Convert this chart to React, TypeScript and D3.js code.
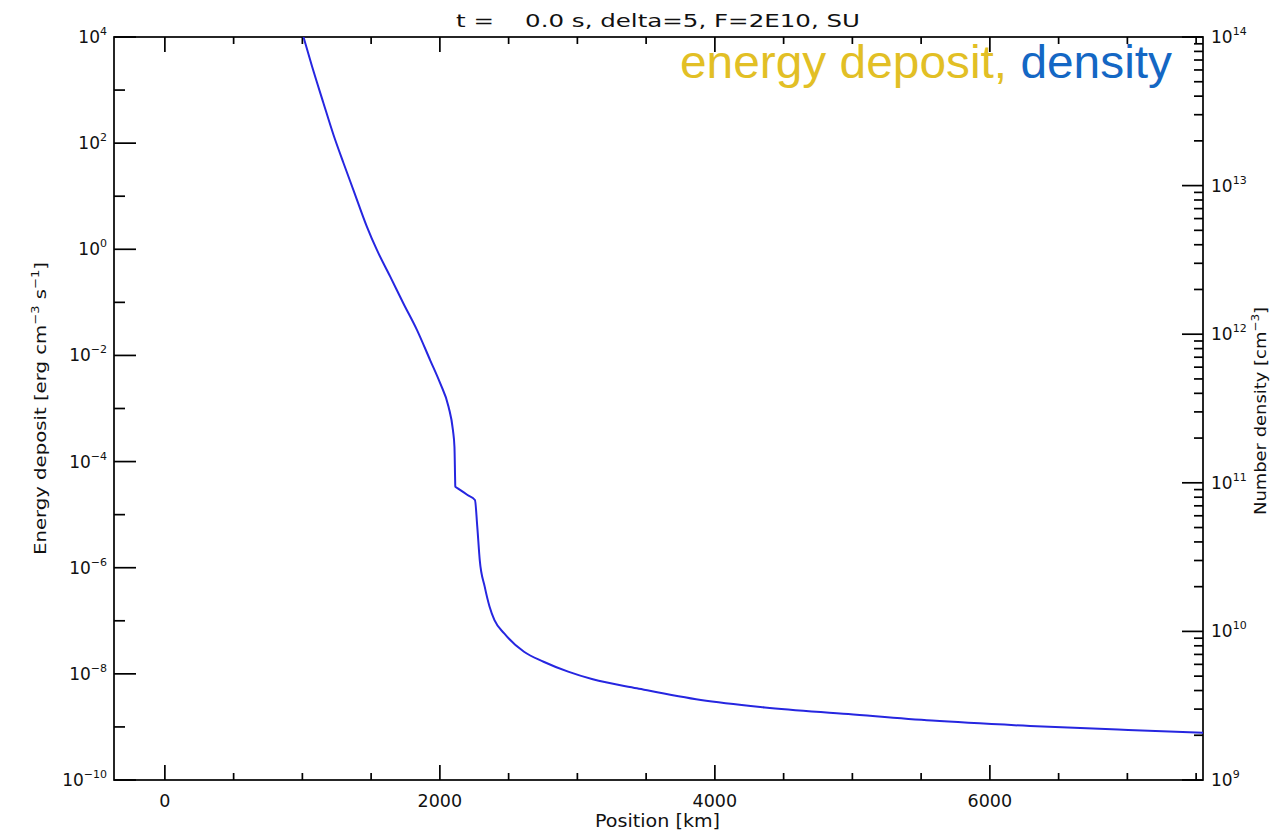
import React from "react";
import * as d3 from "d3";

// Density profile (blue curve): position [km] and number density [cm^-3]
const positionKm = [
  1008, 1069, 1153, 1226, 1299, 1372, 1469, 1542, 1639, 1735, 1833, 1929, 2002, 2063, 2095,
  2106, 2111, 2112, 2130, 2201, 2255, 2272, 2290, 2326, 2361, 2397, 2468, 2612, 2754, 2933,
  3112, 3433, 3898, 4363, 4970, 5578, 6293, 7006, 7551,
];
const densityCm3 = [
  1.0e14, 6.4e13, 3.6e13, 2.2e13, 1.42e13, 9.3e12, 5.3e12, 3.69e12, 2.44e12, 1.61e12,
  1.07e12, 6.7e11, 4.68e11, 3.25e11, 2.26e11, 1.75e11, 1.04e11, 9.42e10, 9.18e10, 8.28e10,
  7.66e10, 5.07e10, 3.02e10, 2.0e10, 1.47e10, 1.19e10, 9.7e9, 7.29e9, 6.25e9, 5.36e9,
  4.76e9, 4.14e9, 3.45e9, 3.08e9, 2.78e9, 2.51e9, 2.31e9, 2.17e9, 2.08e9,
];

const xMajorTicks = [0, 2000, 4000, 6000];
const xMinorTicks = [500, 1000, 1500, 2500, 3000, 3500, 4500, 5000, 5500, 6500, 7000, 7500];
const leftLabelExps = [-10, -8, -6, -4, -2, 0, 2, 4];
const leftMinorExps = [-9, -7, -5, -3, -1, 1, 3];
const rightLabelExps = [9, 10, 11, 12, 13, 14];

const titleText = "t =    0.0 s, delta=5, F=2E10, SU";

const W = 1280;
const H = 835;
const L = 114, R = 1203, T = 37, B = 780;

const FONT = "'DejaVu Sans', sans-serif";

function expLabel(e: number) {
  return e < 0 ? "\u2212" + Math.abs(e) : String(e);
}

export default function App() {
  const x = d3.scaleLinear().domain([-370, 7550]).range([L, R]);
  const yLeft = d3.scaleLog().domain([1e-10, 1e4]).range([B, T]);
  const yRight = d3.scaleLog().domain([1e9, 1e14]).range([B, T]);

  const pts = positionKm.map((p, i) => [p, densityCm3[i]] as [number, number]);
  const line = d3
    .line<[number, number]>()
    .x((d) => x(d[0]))
    .y((d) => yRight(d[1]))
    .curve(d3.curveMonotoneX);

  const rightMinor: number[] = [];
  for (let e = 9; e < 14; e++) {
    for (let m = 2; m <= 9; m++) rightMinor.push(m * Math.pow(10, e));
  }

  const axisStroke = "#000";
  const sw = 1.7;

  return (
    <svg
      width={W}
      height={H}
      style={{ position: "absolute", left: 0, top: 0, background: "#fff" }}
      fontFamily={FONT}
    >
      <rect x={0} y={0} width={W} height={H} fill="#fff" />
      <defs>
        <clipPath id="plotClip">
          <rect x={L} y={T} width={R - L} height={B - T} />
        </clipPath>
      </defs>

      {/* Title */}
      <text
        x={456}
        y={27}
        fontSize={18}
        fill="#111"
        style={{ whiteSpace: "pre" }}
        xmlSpace="preserve"
        textLength={404}
        lengthAdjust="spacingAndGlyphs"
      >
        {titleText}
      </text>

      {/* Legend-like colored label */}
      <text x={680} y={78} fontSize={47} fontFamily="'Liberation Sans', Arial, sans-serif" textLength={492} lengthAdjust="spacingAndGlyphs">
        <tspan fill="#E2BF25">energy deposit, </tspan>
        <tspan fill="#1467C4">density</tspan>
      </text>

      {/* Frame */}
      <rect x={L} y={T} width={R - L} height={B - T} fill="none" stroke={axisStroke} strokeWidth={sw} />

      {/* X ticks bottom and top */}
      {xMajorTicks.map((v) => (
        <g key={"xM" + v}>
          <line x1={x(v)} x2={x(v)} y1={B} y2={B - 15} stroke={axisStroke} strokeWidth={sw} />
          <line x1={x(v)} x2={x(v)} y1={T} y2={T + 15} stroke={axisStroke} strokeWidth={sw} />
          <text x={x(v)} y={807} fontSize={17.5} textAnchor="middle" fill="#111">
            {v}
          </text>
        </g>
      ))}
      {xMinorTicks.map((v) => (
        <g key={"xm" + v}>
          <line x1={x(v)} x2={x(v)} y1={B} y2={B - 7} stroke={axisStroke} strokeWidth={sw} />
          <line x1={x(v)} x2={x(v)} y1={T} y2={T + 7} stroke={axisStroke} strokeWidth={sw} />
        </g>
      ))}

      {/* Left axis ticks */}
      {leftLabelExps.map((e) => {
        const y = yLeft(Math.pow(10, e));
        return (
          <g key={"yl" + e}>
            <line x1={L} x2={L + 22} y1={y} y2={y} stroke={axisStroke} strokeWidth={sw} />
            <text x={107} y={y + 6} fontSize={17} textAnchor="end" fill="#111">
              <tspan>10</tspan>
              <tspan dy={-8} fontSize={11}>{expLabel(e)}</tspan>
            </text>
          </g>
        );
      })}
      {leftMinorExps.map((e) => {
        const y = yLeft(Math.pow(10, e));
        return <line key={"ylm" + e} x1={L} x2={L + 11} y1={y} y2={y} stroke={axisStroke} strokeWidth={sw} />;
      })}

      {/* Right axis ticks */}
      {rightLabelExps.map((e) => {
        const y = yRight(Math.pow(10, e));
        return (
          <g key={"yr" + e}>
            <line x1={R} x2={R - 21} y1={y} y2={y} stroke={axisStroke} strokeWidth={sw} />
            <text x={1211} y={y + 6} fontSize={17} textAnchor="start" fill="#111">
              <tspan>10</tspan>
              <tspan dy={-8} fontSize={11}>{String(e)}</tspan>
            </text>
          </g>
        );
      })}
      {rightMinor.map((v, i) => {
        const y = yRight(v);
        return <line key={"yrm" + i} x1={R} x2={R - 9} y1={y} y2={y} stroke={axisStroke} strokeWidth={sw} />;
      })}

      {/* Axis titles */}
      <text x={595} y={827} fontSize={17} fill="#111" textLength={125} lengthAdjust="spacingAndGlyphs">
        Position [km]
      </text>
      <text
        transform="translate(46,555) rotate(-90)"
        fontSize={16.5}
        fill="#111"
        textLength={293}
        lengthAdjust="spacingAndGlyphs"
      >
        <tspan>Energy deposit [erg cm</tspan>
        <tspan dy={-7} fontSize={11}>{"\u22123"}</tspan>
        <tspan dy={7}> s</tspan>
        <tspan dy={-7} fontSize={11}>{"\u22121"}</tspan>
        <tspan dy={7}>]</tspan>
      </text>
      <text
        transform="translate(1266,515) rotate(-90)"
        fontSize={16.5}
        fill="#111"
        textLength={208}
        lengthAdjust="spacingAndGlyphs"
      >
        <tspan>Number density [cm</tspan>
        <tspan dy={-7} fontSize={11}>{"\u22123"}</tspan>
        <tspan dy={7}>]</tspan>
      </text>

      {/* Density curve */}
      <g clipPath="url(#plotClip)">
        <path d={line(pts) || ""} fill="none" stroke="#2626E0" strokeWidth={2} strokeLinejoin="round" />
      </g>
    </svg>
  );
}
